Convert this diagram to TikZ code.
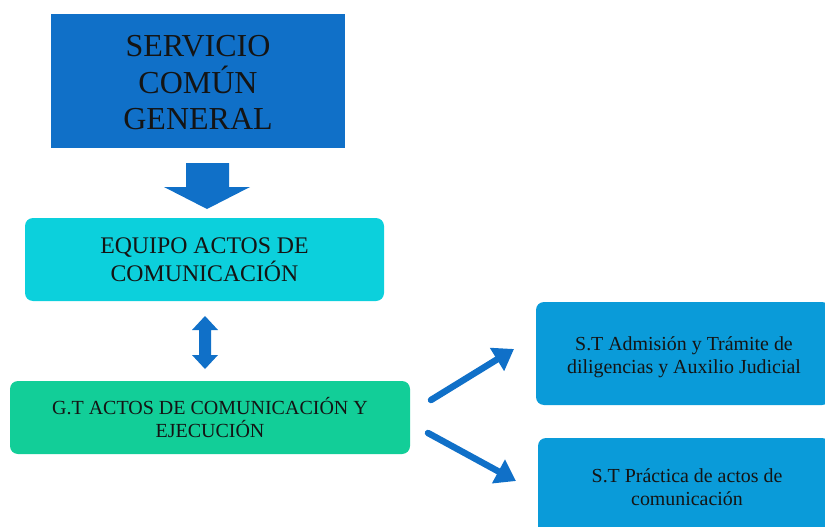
\documentclass[tikz,border=0pt]{standalone}
\usepackage{fontspec}
\setmainfont{Liberation Serif}
\usetikzlibrary{arrows.meta}
\definecolor{navy}{HTML}{1070C8}
\definecolor{cyanbox}{HTML}{0CD0DC}
\definecolor{greenbox}{HTML}{12CE98}
\definecolor{bluebox}{HTML}{0A9BD9}
\definecolor{txt}{HTML}{141414}
\tikzset{
  box/.style={rounded corners=8pt, inner sep=0pt, align=center, text=txt},
  boxtext/.style={inner sep=0pt, align=center, text=txt},
  bigarrow/.style={fill=navy, draw=none},
  linkarrow/.style={draw=navy, line width=6.5pt, line cap=round, -{Triangle[length=20pt,width=26pt]}},
}
\begin{document}
\begin{tikzpicture}[x=1pt,y=-1pt]
\useasboundingbox (0,0) rectangle (825,527);
\clip (0,0) rectangle (825,527);
\fill[navy] (51,14) rectangle (345,148);
\node[boxtext, font=\fontsize{32}{36.5}\selectfont] (scg) at (198,83) {SERVICIO\\COMÚN\\GENERAL};
\node[box, fill=cyanbox, minimum width=359pt, minimum height=83pt, font=\fontsize{23.8}{28}\selectfont] (eq) at (204.5,259.5) {EQUIPO ACTOS DE\\COMUNICACIÓN};
\node[box, fill=greenbox, minimum width=400pt, minimum height=73pt, font=\fontsize{20}{23}\selectfont] (gt) at (210,417.5) {G.T ACTOS DE COMUNICACIÓN Y\\EJECUCIÓN};
\fill[bluebox, rounded corners=8pt] (536,302) rectangle (830,405);
\node[boxtext, font=\fontsize{19.9}{23}\selectfont] (st1) at (684,357) {S.T Admisión y Trámite de\\diligencias y Auxilio Judicial};
\fill[bluebox, rounded corners=8pt] (538,438) rectangle (830,540);
\node[boxtext, font=\fontsize{19.9}{22.5}\selectfont] (st2) at (687,487) {S.T Práctica de actos de\\comunicación};
% down arrow
\fill[bigarrow] (186,163) -- (229,163) -- (229,187) -- (250,187) -- (207,209) -- (164,187) -- (186,187) -- cycle;
% double arrow
\fill[bigarrow] (205,316) -- (218,330) -- (211,330) -- (211,355) -- (218,355) -- (205,369) -- (192,355) -- (199,355) -- (199,330) -- (192,330) -- cycle;
% link arrows
\coordinate (a1) at (431,400);
\coordinate (a2) at (428,433);
\draw[linkarrow] (a1) -- (514,349);
\draw[linkarrow] (a2) -- (516,481);
\end{tikzpicture}
\end{document}
